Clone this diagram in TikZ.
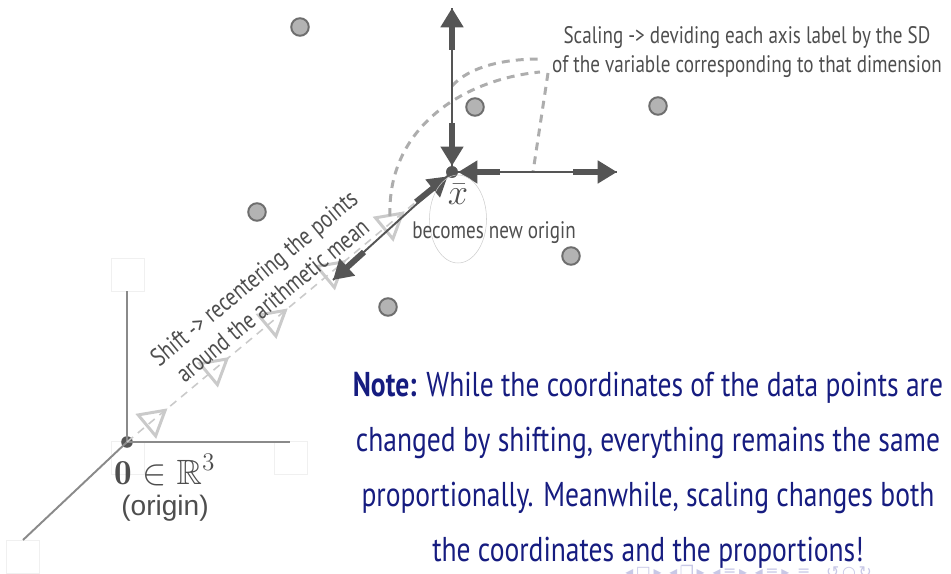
\documentclass[tikz,border=0pt]{standalone}
\usepackage{amsmath, amssymb}
\usepackage{fontspec}
\usepackage{xcolor}
\usetikzlibrary{positioning, arrows.meta, calc, shapes.geometric}

\newfontfamily\handfont[FakeStretch=0.8]{PT Sans}
\newfontfamily\arialfont{Liberation Sans}
\newfontfamily\navfont{DejaVu Sans}

\definecolor{txtgray}{HTML}{4E4E4E}
\definecolor{axgray}{HTML}{8A8A8A}
\definecolor{arrgray}{HTML}{555555}
\definecolor{dashgray}{HTML}{ADADAD}
\definecolor{trigray}{HTML}{CACACA}
\definecolor{ptfill}{HTML}{B3B3B3}
\definecolor{ptdraw}{HTML}{6E6E6E}
\definecolor{noteblue}{RGB}{22,28,128}
\definecolor{navblue}{HTML}{C8C8E6}

\begin{document}
\begin{tikzpicture}[x=0.02cm, y=-0.02cm, >=Latex,
  axis/.style={draw=axgray, line width=1.1pt},
  ghostbox/.style={draw=black!6, line width=0.4pt, minimum size=33*0.02cm, inner sep=0pt},
  dot/.style={circle, fill=arrgray, minimum size=6.6pt, inner sep=0pt},
  datapt/.style={circle, fill=ptfill, draw=ptdraw, line width=1.1pt, minimum size=10pt, inner sep=0pt},
  thinline/.style={draw=arrgray, line width=1.1pt},
  heavy/.style={draw=arrgray, line width=3.4pt, -{Triangle[length=11pt, width=12.5pt]}},
  shiftline/.style={draw=trigray, line width=0.9pt, dash pattern=on 4.5pt off 3.5pt},
  scaledash/.style={draw=dashgray, line width=1.7pt, dash pattern=on 4.5pt off 3.5pt},
  tri/.style={isosceles triangle, isosceles triangle apex angle=60, draw=trigray,
    line width=1.7pt, minimum height=13.5pt, inner sep=0pt, rotate=39.7},
  graylbl/.style={text=txtgray, font=\handfont\fontsize{13.6}{16}\selectfont, align=center},
  notetxt/.style={text=noteblue, font=\handfont\fontsize{19.6}{31.3}\selectfont, align=center}
]
\useasboundingbox (0,0) rectangle (951,574);

% faint placeholder boxes
\node[ghostbox] (gb1) at (127.5,274.5) {};
\node[ghostbox] (gb2) at (127.5,458) {};
\node[ghostbox] (gb3) at (290.5,458) {};
\node[ghostbox] (gb4) at (22.5,557) {};

% origin and axes
\node[dot] (O) at (127,442) {};
\coordinate (yend) at (127,291);
\coordinate (xend) at (290,442);
\coordinate (zend) at (23,540);
\draw[axis] (O.center) -- (yend);
\draw[axis] (O.center) -- (xend);
\draw[axis] (O.center) -- (zend);
\node[text=txtgray, font=\fontsize{20}{24}\selectfont] (olbl) at (165,470) {$\mathbf{0}\in\mathbb{R}^3$};
\node[text=txtgray, font=\arialfont\fontsize{16}{19}\selectfont] (oname) at (165,508) {(origin)};

% data points
\foreach \px/\py [count=\i] in {300/27, 475/107, 658/106, 257/212, 571/256, 388/307}
  \node[datapt] (p\i) at (\px,\py) {};

% mean
\node[dot] (xbar) at (452,172) {};

% shift
\draw[shiftline] (O.center) -- (xbar.center);
\foreach \t [count=\i] in {0.08,0.27,0.45,0.63,0.81}
  \node[tri] (tri\i) at ($(O.center)!\t!(xbar.center)$) {};
\node[graylbl, font=\handfont\fontsize{14.4}{16.5}\selectfont, rotate=39.5] (shifttxt) at (263,289) {Shift -> recentering the points\\around the arithmetic mean};

% scaling
\coordinate (sc1) at (540,72);
\coordinate (sc2) at (540,59);
\coordinate (sc3) at (548,73);
\coordinate (sc4) at (533,172);
\coordinate (vup) at (452,86);
\draw[scaledash] (390,216) .. controls (387,130) and (460,80) .. (sc1);
\draw[scaledash] (vup) .. controls (470,66) and (505,59) .. (sc2);
\draw[scaledash] (sc3) -- (sc4);
\node[graylbl] (scaletxt) at (747,52) {Scaling -> deviding each axis label by the SD\\of the variable corresponding to that dimension};

% new axes at the mean
\coordinate (up) at (452,8);
\coordinate (right) at (617,172);
\coordinate (diag) at (333,280);
\draw[thinline] (xbar.center) -- (up);
\draw[thinline] (xbar.center) -- (right);
\draw[thinline] (xbar.center) -- (diag);
\draw[heavy] (452,50) -- (up);
\draw[heavy] (452,123) -- (xbar.north);
\draw[heavy] (573,172) -- (right);
\draw[heavy] (500,172) -- (xbar.east);
\draw[heavy] (364,252) -- (diag);
\draw[heavy] (416,202) -- (xbar.south west);
\node[dot] (xbar2) at (xbar) {};

\node[text=txtgray, font=\fontsize{20}{24}\selectfont] (xlbl) at (458,194) {$\bar{x}$};
\node[ellipse, draw=black!20, line width=0.3pt, minimum width=57*0.02cm, minimum height=88*0.02cm] (xring) at (458,219) {};
\node[graylbl] (newo) at (494,233) {becomes new origin};

% note
\node[notetxt] (note) at (648,470) {\textbf{Note:} While the coordinates of the data points are\\changed by shifting, everything remains the same\\proportionally. Meanwhile, scaling changes both\\the coordinates and the proportions!};

% navigation symbols
\node[text=navblue, font=\navfont\fontsize{9}{9}\selectfont, anchor=north west, inner sep=0pt] (nav) at (625,565)
  {◂\,□\,▸\enspace◂\,❐\,▸\enspace◂\,≡\,▸\enspace◂\,≡\,▸\enspace≡\quad↺\,○\,↻};
\end{tikzpicture}
\end{document}
